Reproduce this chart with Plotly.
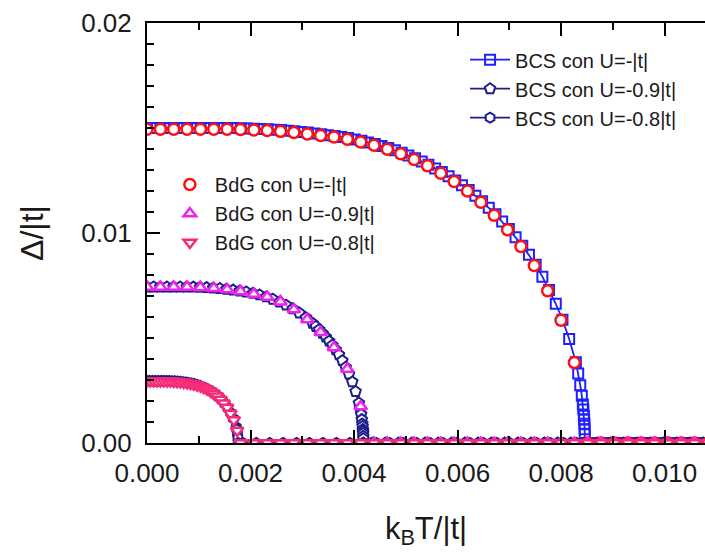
import plotly.graph_objects as go

# ---------------- BCS: gap vs temperature (lines + markers) ----------------
T_BCS_10 = [0, 0.0001295, 0.0002589, 0.0003884, 0.0005178, 0.0006473, 0.0007768, 0.0009062,
            0.0010357, 0.0011651, 0.0012946, 0.0014241, 0.0015535, 0.0016830, 0.0018124, 0.0019419,
            0.0020714, 0.0022008, 0.0023303, 0.0024597, 0.0025892, 0.0027187, 0.0028481, 0.0029776,
            0.0031070, 0.0032365, 0.0033660, 0.0034954, 0.0036249, 0.0037543, 0.0038838, 0.0040133,
            0.0041427, 0.0042722, 0.0044016, 0.0045311, 0.0046606, 0.0047900, 0.0049195, 0.0050489,
            0.0051784, 0.0053079, 0.0054373, 0.0055668, 0.0056962, 0.0058257, 0.0059552, 0.0060846,
            0.0062141, 0.0063435, 0.0064730, 0.0066025, 0.0067319, 0.0068614, 0.0069908, 0.0071203,
            0.0072498, 0.0073792, 0.0075087, 0.0076381, 0.0077676, 0.0078971, 0.0080265, 0.0081560,
            0.0082854, 0.00833, 0.00837, 0.00840, 0.00842, 0.00843, 0.00844, 0.008445, 0.00845,
            0.008455, 0.008458, 0.00846,
            0.008544, 0.008674, 0.008803, 0.008933, 0.009062, 0.009192, 0.009321, 0.009451, 0.009580,
            0.009710, 0.009839, 0.009968, 0.010098, 0.010227, 0.010357, 0.010486, 0.010616, 0.010745,
            0.010875]
D_BCS_10 = [0.015, 0.015, 0.015, 0.015, 0.015, 0.015, 0.015, 0.015, 0.015, 0.015, 0.015, 0.015, 0.015,
            0.014995, 0.01499, 0.01498, 0.01497, 0.014955, 0.01494, 0.01492, 0.0149, 0.014875, 0.01485,
            0.014815, 0.01478, 0.01474, 0.0147, 0.014659, 0.014618, 0.014568, 0.014519, 0.014453,
            0.014388, 0.014312, 0.014237, 0.014141, 0.014046, 0.013936, 0.013826, 0.01369, 0.013554,
            0.013403, 0.013253, 0.013077, 0.012902, 0.012701, 0.0125, 0.012274, 0.012048, 0.011777,
            0.011507, 0.0112, 0.010893, 0.010542, 0.010191, 0.009794, 0.009398, 0.008963, 0.008484,
            0.00792, 0.00728, 0.00663, 0.005874, 0.00495, 0.003846,
            0.00331, 0.002754, 0.002249, 0.001836, 0.00159, 0.001298, 0.001124, 0.000918, 0.000649,
            0.000411, 0.0,
            0, 0, 0, 0, 0, 0, 0, 0, 0, 0, 0, 0, 0, 0, 0, 0, 0, 0, 0]

T_BCS_09 = [0, 0.000128, 0.000256, 0.000384, 0.000512, 0.00064, 0.000768, 0.000896, 0.001024,
            0.001151, 0.001279, 0.001407, 0.001535, 0.001663, 0.001791, 0.001919, 0.002047, 0.002175,
            0.002303, 0.002431, 0.002559, 0.002687, 0.002815, 0.002943, 0.003071, 0.003199,
            0.003262, 0.003326, 0.00339, 0.003454, 0.003518, 0.003582, 0.003646, 0.00371, 0.003774,
            0.003838, 0.003902, 0.003966, 0.00403, 0.004094,
            0.004116, 0.004136, 0.00415, 0.00416, 0.004165, 0.00417, 0.004173, 0.004175, 0.004178,
            0.004179, 0.00418,
            0.00435, 0.004606, 0.004862, 0.005118, 0.005373, 0.005629, 0.005885, 0.006141, 0.006397,
            0.006653, 0.006909, 0.007165, 0.007421, 0.007676, 0.007932, 0.008188, 0.008444, 0.0087,
            0.008956, 0.009212, 0.009468, 0.009723, 0.009979, 0.010235, 0.010491, 0.010747]
D_BCS_09 = [0.00743, 0.00743, 0.00743, 0.00743, 0.00743, 0.00743, 0.00743,
            0.007425, 0.007415, 0.0074, 0.00738, 0.007356, 0.007321, 0.007281, 0.007241, 0.007191,
            0.007127, 0.007052, 0.006957, 0.006848, 0.006714, 0.006564, 0.006391, 0.006191, 0.005968,
            0.0057,
            0.005548, 0.005396, 0.005222, 0.005048, 0.004851, 0.004655, 0.004439, 0.004202, 0.003923,
            0.003606, 0.003284, 0.00291, 0.002452, 0.001905,
            0.00164, 0.001364, 0.001114, 0.000909, 0.000788, 0.000643, 0.000557, 0.000455, 0.000322,
            0.000204, 0.0,
            0, 0, 0, 0, 0, 0, 0, 0, 0, 0, 0, 0, 0, 0, 0, 0, 0, 0, 0, 0, 0, 0, 0, 0, 0, 0]

T_BCS_08 = [0, 0.0000539, 0.0001077, 0.0001616, 0.0002154, 0.0002693, 0.0003232, 0.000377,
            0.0004309, 0.0004847, 0.0005386, 0.0005925, 0.0006463, 0.0007002, 0.000754, 0.0008079,
            0.0008618, 0.0009156, 0.0009695, 0.0010233, 0.0010772, 0.0011311, 0.0011849, 0.0012388,
            0.0012926, 0.0013465, 0.0014004, 0.0014542, 0.0015081, 0.0015619, 0.0016158, 0.0016697,
            0.0017235, 0.001733, 0.001748, 0.001756, 0.00176,
            0.00185, 0.00211, 0.00237, 0.00263, 0.00289, 0.00314, 0.0034, 0.00366, 0.00392, 0.00418,
            0.00443, 0.00469, 0.00495, 0.00521, 0.00547, 0.00572, 0.00598, 0.00624, 0.0065, 0.00676,
            0.00701, 0.00727, 0.00753, 0.00779, 0.00805, 0.0083, 0.00856, 0.00882, 0.00908, 0.00934,
            0.00959, 0.00985, 0.01011, 0.01037, 0.01063, 0.01088]
D_BCS_08 = [0.00296, 0.00296, 0.00296, 0.00296, 0.00296, 0.00296, 0.00296,
            0.002958, 0.002954, 0.002948, 0.00294, 0.00293, 0.002916, 0.002901, 0.002885, 0.002865,
            0.002839, 0.002809, 0.002772, 0.002728, 0.002675, 0.002615, 0.002546, 0.002467, 0.002377,
            0.002271, 0.00215, 0.002011, 0.001854, 0.001674, 0.001436, 0.001159, 0.000759,
            0.000653, 0.000444, 0.000256, 0.0,
            0, 0, 0, 0, 0, 0, 0, 0, 0, 0, 0, 0, 0, 0, 0, 0, 0, 0, 0, 0, 0, 0, 0, 0, 0, 0, 0, 0, 0, 0,
            0, 0, 0, 0, 0, 0]

# ---------------- BdG: gap vs temperature (markers only) ----------------
T_BDG = [0, 0.000258, 0.000516, 0.000774, 0.001032, 0.00129, 0.001548, 0.001806, 0.002064,
         0.002322, 0.00258, 0.002838, 0.003096, 0.003354, 0.003612, 0.00387, 0.004128, 0.004386,
         0.004644, 0.004902, 0.00516, 0.005418, 0.005676, 0.005934, 0.006192, 0.00645, 0.006708,
         0.006966, 0.007224, 0.007482, 0.00774, 0.007998, 0.008256, 0.008514, 0.008772, 0.00903,
         0.009288, 0.009546, 0.009804, 0.010062, 0.01032, 0.010578, 0.010836]
D_BDG_10 = [0.01494, 0.01494, 0.01494, 0.01494, 0.01494, 0.01494, 0.01494, 0.01493, 0.01491,
            0.01488, 0.01484, 0.01479, 0.01472, 0.01464, 0.01457, 0.01446, 0.01433, 0.01418, 0.01399,
            0.01377, 0.0135, 0.0132, 0.01285, 0.01245, 0.012, 0.01146, 0.01085, 0.01015, 0.00936,
            0.00845, 0.00725, 0.00585, 0.00383,
            0, 0, 0, 0, 0, 0, 0, 0, 0, 0]
D_BDG_09 = [0.00743, 0.00743, 0.00743, 0.00743, 0.00741, 0.00737, 0.00731, 0.00722, 0.00709,
            0.00695, 0.00673, 0.00636, 0.00588, 0.00527, 0.00455, 0.00352, 0.00174,
            0, 0, 0, 0, 0, 0, 0, 0, 0, 0, 0, 0, 0, 0, 0, 0, 0, 0, 0, 0, 0, 0, 0, 0, 0, 0]

T_BDG_08 = [0, 0.0000645, 0.000129, 0.0001935, 0.000258, 0.0003225, 0.000387, 0.0004515, 0.000516,
            0.0005805, 0.000645, 0.0007095, 0.000774, 0.0008385, 0.000903, 0.0009675, 0.001032,
            0.0010965, 0.001161, 0.0012255, 0.00129, 0.0013545, 0.001419, 0.0014835, 0.001548,
            0.0016125, 0.001677, 0.0017415,
            0.001806, 0.002064, 0.002322, 0.00258, 0.002838, 0.003096, 0.003354, 0.003612, 0.00387,
            0.004128, 0.004386, 0.004644, 0.004902, 0.00516, 0.005418, 0.005676, 0.005934, 0.006192,
            0.00645, 0.006708, 0.006966, 0.007224, 0.007482, 0.00774, 0.007998, 0.008256, 0.008514,
            0.008772, 0.00903, 0.009288, 0.009546, 0.009804, 0.010062, 0.01032, 0.010578, 0.010836]
D_BDG_08 = [0.00295, 0.00295, 0.00295, 0.00295, 0.00295, 0.00295, 0.002947, 0.002942, 0.002933,
            0.002923, 0.002907, 0.002888, 0.002865, 0.002837, 0.002803, 0.002758, 0.002703, 0.002636,
            0.002558, 0.002466, 0.002359, 0.002227, 0.002073, 0.001895, 0.001687, 0.001404, 0.0011,
            0.0006,
            0, 0, 0, 0, 0, 0, 0, 0, 0, 0, 0, 0, 0, 0, 0, 0, 0, 0, 0, 0, 0, 0, 0, 0, 0, 0, 0, 0, 0, 0,
            0, 0, 0, 0, 0, 0]

BCS_NAMES = ["BCS con U=-|t|", "BCS con U=-0.9|t|", "BCS con U=-0.8|t|"]
BDG_NAMES = ["BdG con U=-|t|", "BdG con U=-0.9|t|", "BdG con U=-0.8|t|"]
X_TICKS = [0.000, 0.002, 0.004, 0.006, 0.008, 0.010]
Y_TICKS = [0.00, 0.01, 0.02]

BLUE = "#1f1fff"
NAVY = "#1e1e8a"
RED = "#ff1010"
MAGENTA = "#f020f0"
PINK = "#f52a78"
FONT = "Liberation Sans, Arial, sans-serif"

fig = go.Figure()

bcs_series = [
    (T_BCS_10, D_BCS_10, BCS_NAMES[0], BLUE, "square", 10, "rgba(0,0,0,0)"),
    (T_BCS_09, D_BCS_09, BCS_NAMES[1], NAVY, "pentagon", 11, "white"),
    (T_BCS_08, D_BCS_08, BCS_NAMES[2], NAVY, "hexagon", 10, "white"),
]
for t, d, name, col, sym, size, fill in bcs_series:
    assert len(t) == len(d)
    fig.add_trace(go.Scatter(
        x=t, y=d, name=name, mode="lines+markers", legend="legend",
        line=dict(color=col, width=1.8),
        marker=dict(symbol=sym, size=size, color=fill, line=dict(color=col, width=2)),
    ))

bdg_series = [
    (T_BDG, D_BDG_10, BDG_NAMES[0], RED, "circle", 11),
    (T_BDG, D_BDG_09, BDG_NAMES[1], MAGENTA, "triangle-up", 11),
    (T_BDG_08, D_BDG_08, BDG_NAMES[2], PINK, "triangle-down", 11),
]
for t, d, name, col, sym, size in bdg_series:
    assert len(t) == len(d)
    fig.add_trace(go.Scatter(
        x=t, y=d, name=name, mode="markers", legend="legend2",
        marker=dict(symbol=sym, size=size, color="white", line=dict(color=col, width=2.5)),
    ))

axis_common = dict(
    showline=True, linecolor="black", linewidth=2,
    ticks="inside", ticklen=13, tickwidth=2, tickcolor="black",
    showgrid=False, zeroline=False,
    tickfont=dict(family=FONT, size=26, color="#1a1a1a"),
)

fig.update_layout(
    width=705, height=553,
    margin=dict(l=147, r=0, t=23, b=110),
    paper_bgcolor="white", plot_bgcolor="white",
    xaxis=dict(
        **axis_common, range=[0, 0.01078], tickvals=X_TICKS,
        tickformat=".3f", mirror="ticks", ticklabelstandoff=6,
        minor=dict(dtick=0.001, ticks="inside", ticklen=7, tickwidth=2, tickcolor="black"),
        title=dict(text="k<sub>B</sub>T/|t|", font=dict(family=FONT, size=31, color="#1a1a1a"),
                   standoff=30),
    ),
    yaxis=dict(
        **axis_common, range=[0, 0.02], tickvals=Y_TICKS,
        tickformat=".2f", mirror=False, ticklabelstandoff=8,
        minor=dict(dtick=0.001, ticks="inside", ticklen=7, tickwidth=2, tickcolor="black"),
        title=dict(text="Δ/|t|", font=dict(family=FONT, size=32, color="#1a1a1a"), standoff=28),
    ),
    legend=dict(
        x=0.570, y=0.959, xanchor="left", yanchor="top", itemwidth=40,
        bgcolor="rgba(0,0,0,0)", borderwidth=0,
        font=dict(family=FONT, size=20, color="#1a1a1a"),
    ),
    legend2=dict(
        x=0.032, y=0.662, xanchor="left", yanchor="top", itemwidth=40,
        bgcolor="rgba(0,0,0,0)", borderwidth=0,
        font=dict(family=FONT, size=20, color="#1a1a1a"),
    ),
)

fig.write_html("out.html")
